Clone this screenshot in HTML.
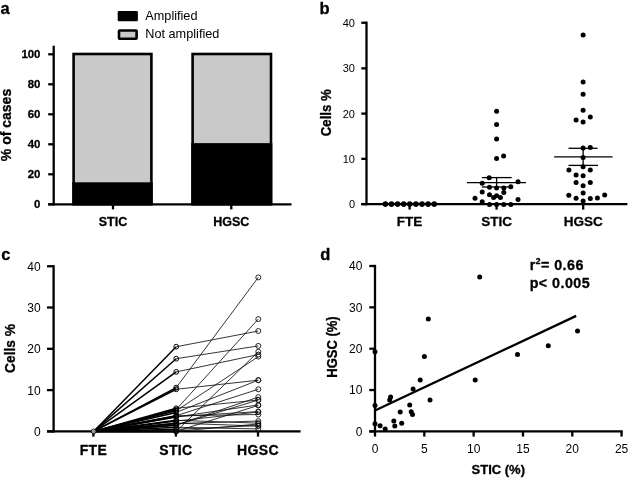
<!DOCTYPE html>
<html lang="en"><head><meta charset="utf-8"><title>Figure</title>
<style>
html,body{margin:0;padding:0;background:#fff;}
body{width:630px;height:479px;overflow:hidden;}
svg{display:block;font-family:"Liberation Sans", Arial, Helvetica, sans-serif;}
.ax{stroke:#000;stroke-width:2.3;fill:none;stroke-linecap:butt;}
.b{font-weight:bold;}
.pl{font-weight:bold;font-size:16.5px;}
text{fill:#000;}
text[font-weight=bold]{stroke:#000;stroke-width:0.3px;stroke-linejoin:round;}
</style></head><body>
<svg width="630" height="479" viewBox="0 0 630 479">
<rect width="630" height="479" fill="#fff"/>
<g id="panel-a">
<text x="0.60" y="13.50" font-size="16.5" text-anchor="start" font-weight="bold" >a</text>
<rect x="117.7" y="10.9" width="20.2" height="10.4" rx="1.2" fill="#000"/>
<rect x="119" y="30.5" width="17.6" height="8.2" rx="0.6" fill="#c8c8c8" stroke="#000" stroke-width="2.6"/>
<text x="145.30" y="19.90" font-size="12.7" text-anchor="start" >Amplified</text>
<text x="145.30" y="38.40" font-size="12.7" text-anchor="start" >Not amplified</text>
<rect x="73.60" y="54.00" width="77.80" height="128.25" fill="#c9c9c9"/>
<rect x="72.30" y="182.25" width="80.40" height="22.05" fill="#000"/>
<rect x="73.60" y="54.00" width="77.80" height="150.30" fill="none" stroke="#000" stroke-width="2.6"/>
<rect x="192.60" y="54.00" width="78.40" height="89.10" fill="#c9c9c9"/>
<rect x="191.30" y="143.10" width="81.00" height="61.20" fill="#000"/>
<rect x="192.60" y="54.00" width="78.40" height="150.30" fill="none" stroke="#000" stroke-width="2.6"/>
<line class="ax" x1="53.70" y1="45.70" x2="53.70" y2="205.45" />
<line class="ax" x1="48.20" y1="204.30" x2="291.50" y2="204.30" />
<line class="ax" x1="48.20" y1="204.30" x2="53.70" y2="204.30" />
<text x="40.40" y="207.80" font-size="11.4" text-anchor="end" font-weight="bold" >0</text>
<line class="ax" x1="48.20" y1="174.30" x2="53.70" y2="174.30" />
<text x="40.40" y="177.80" font-size="11.4" text-anchor="end" font-weight="bold" >20</text>
<line class="ax" x1="48.20" y1="144.30" x2="53.70" y2="144.30" />
<text x="40.40" y="147.80" font-size="11.4" text-anchor="end" font-weight="bold" >40</text>
<line class="ax" x1="48.20" y1="114.30" x2="53.70" y2="114.30" />
<text x="40.40" y="117.80" font-size="11.4" text-anchor="end" font-weight="bold" >60</text>
<line class="ax" x1="48.20" y1="84.30" x2="53.70" y2="84.30" />
<text x="40.40" y="87.80" font-size="11.4" text-anchor="end" font-weight="bold" >80</text>
<line class="ax" x1="48.20" y1="54.30" x2="53.70" y2="54.30" />
<text x="40.40" y="57.80" font-size="11.4" text-anchor="end" font-weight="bold" >100</text>
<line class="ax" x1="113.00" y1="204.30" x2="113.00" y2="209.40" />
<text x="113.00" y="225.50" font-size="12.5" text-anchor="middle" font-weight="bold" >STIC</text>
<line class="ax" x1="231.30" y1="204.30" x2="231.30" y2="209.40" />
<text x="231.30" y="225.50" font-size="12.5" text-anchor="middle" font-weight="bold" >HGSC</text>
<text transform="translate(11.20 125.00) rotate(-90) scale(1 1.08)" font-size="14" text-anchor="middle" font-weight="bold" >% of cases</text>
</g>
<g id="panel-b">
<text x="319.50" y="13.50" font-size="16.5" text-anchor="start" font-weight="bold" >b</text>
<line class="ax" x1="366.50" y1="21.60" x2="366.50" y2="205.25" />
<line class="ax" x1="361.30" y1="204.10" x2="627.40" y2="204.10" />
<line class="ax" x1="361.30" y1="204.10" x2="366.50" y2="204.10" />
<text x="355.00" y="208.20" font-size="11" text-anchor="end" >0</text>
<line class="ax" x1="361.30" y1="158.85" x2="366.50" y2="158.85" />
<text x="355.00" y="162.95" font-size="11" text-anchor="end" >10</text>
<line class="ax" x1="361.30" y1="113.60" x2="366.50" y2="113.60" />
<text x="355.00" y="117.70" font-size="11" text-anchor="end" >20</text>
<line class="ax" x1="361.30" y1="68.35" x2="366.50" y2="68.35" />
<text x="355.00" y="72.45" font-size="11" text-anchor="end" >30</text>
<line class="ax" x1="361.30" y1="22.75" x2="366.50" y2="22.75" />
<text x="355.00" y="27.20" font-size="11" text-anchor="end" >40</text>
<line class="ax" x1="409.60" y1="204.10" x2="409.60" y2="209.60" />
<text x="409.60" y="226.30" font-size="13.5" text-anchor="middle" font-weight="bold" >FTE</text>
<line class="ax" x1="496.60" y1="204.10" x2="496.60" y2="209.60" />
<text x="496.60" y="226.30" font-size="13.5" text-anchor="middle" font-weight="bold" >STIC</text>
<line class="ax" x1="583.20" y1="204.10" x2="583.20" y2="209.60" />
<text x="583.20" y="226.30" font-size="13.5" text-anchor="middle" font-weight="bold" >HGSC</text>
<text transform="translate(331.00 112.70) rotate(-90) scale(1 1.08)" font-size="13.2" text-anchor="middle" font-weight="bold" >Cells %</text>
<g fill="#000">
<circle cx="385.4" cy="204.1" r="2.80"/>
<circle cx="391.5" cy="204.1" r="2.80"/>
<circle cx="397.6" cy="204.1" r="2.80"/>
<circle cx="403.7" cy="204.1" r="2.80"/>
<circle cx="409.8" cy="204.1" r="2.80"/>
<circle cx="415.9" cy="204.1" r="2.80"/>
<circle cx="422.0" cy="204.1" r="2.80"/>
<circle cx="428.1" cy="204.1" r="2.80"/>
<circle cx="434.2" cy="204.1" r="2.80"/>
<circle cx="496.6" cy="111.3" r="2.50"/>
<circle cx="496.6" cy="124.5" r="2.50"/>
<circle cx="496.6" cy="138.9" r="2.50"/>
<circle cx="496.6" cy="158.5" r="2.50"/>
<circle cx="503.6" cy="156.0" r="2.50"/>
<circle cx="489.2" cy="177.7" r="2.50"/>
<circle cx="482.2" cy="183.3" r="2.50"/>
<circle cx="518.0" cy="181.7" r="2.50"/>
<circle cx="489.5" cy="187.2" r="2.50"/>
<circle cx="496.6" cy="188.0" r="2.50"/>
<circle cx="503.8" cy="188.0" r="2.50"/>
<circle cx="510.8" cy="186.8" r="2.50"/>
<circle cx="482.2" cy="192.0" r="2.50"/>
<circle cx="503.8" cy="192.5" r="2.50"/>
<circle cx="489.5" cy="194.8" r="2.50"/>
<circle cx="493.6" cy="197.6" r="2.50"/>
<circle cx="496.6" cy="195.7" r="2.50"/>
<circle cx="500.4" cy="197.6" r="2.50"/>
<circle cx="475.0" cy="198.3" r="2.50"/>
<circle cx="518.0" cy="199.5" r="2.50"/>
<circle cx="482.2" cy="201.7" r="2.50"/>
<circle cx="489.5" cy="204.6" r="2.50"/>
<circle cx="496.6" cy="204.6" r="2.50"/>
<circle cx="503.8" cy="204.6" r="2.50"/>
<circle cx="510.8" cy="204.6" r="2.50"/>
<circle cx="583.1" cy="35.0" r="2.50"/>
<circle cx="583.1" cy="81.9" r="2.50"/>
<circle cx="583.1" cy="94.2" r="2.50"/>
<circle cx="583.1" cy="110.2" r="2.50"/>
<circle cx="590.3" cy="117.1" r="2.50"/>
<circle cx="576.1" cy="120.0" r="2.50"/>
<circle cx="583.1" cy="121.9" r="2.50"/>
<circle cx="583.1" cy="147.9" r="2.50"/>
<circle cx="590.3" cy="147.4" r="2.50"/>
<circle cx="583.1" cy="157.4" r="2.50"/>
<circle cx="583.1" cy="166.7" r="2.50"/>
<circle cx="568.9" cy="170.1" r="2.50"/>
<circle cx="590.3" cy="170.1" r="2.50"/>
<circle cx="576.1" cy="174.9" r="2.50"/>
<circle cx="583.1" cy="175.8" r="2.50"/>
<circle cx="576.1" cy="182.5" r="2.50"/>
<circle cx="590.3" cy="182.5" r="2.50"/>
<circle cx="583.1" cy="185.7" r="2.50"/>
<circle cx="583.1" cy="192.9" r="2.50"/>
<circle cx="568.8" cy="195.3" r="2.50"/>
<circle cx="604.7" cy="195.0" r="2.50"/>
<circle cx="576.1" cy="198.3" r="2.50"/>
<circle cx="590.3" cy="198.5" r="2.50"/>
<circle cx="597.4" cy="198.0" r="2.50"/>
<circle cx="583.1" cy="201.0" r="2.50"/>
</g>
<g stroke="#000" stroke-width="1.3" fill="none">
<line class="" x1="467.00" y1="182.60" x2="526.00" y2="182.60" />
<line class="" x1="481.80" y1="177.60" x2="511.70" y2="177.60" />
<line class="" x1="481.80" y1="187.00" x2="511.70" y2="187.00" />
<line class="" x1="496.60" y1="177.60" x2="496.60" y2="187.00" />
<line class="" x1="554.10" y1="156.80" x2="612.60" y2="156.80" />
<line class="" x1="568.50" y1="148.30" x2="597.50" y2="148.30" />
<line class="" x1="568.50" y1="165.40" x2="598.00" y2="165.40" />
<line class="" x1="583.10" y1="148.30" x2="583.10" y2="165.40" />
</g>
</g>
<g id="panel-c">
<text x="1.30" y="260.00" font-size="16.5" text-anchor="start" font-weight="bold" >c</text>
<line class="ax" x1="53.60" y1="265.10" x2="53.60" y2="432.55" />
<line class="ax" x1="47.00" y1="431.40" x2="300.60" y2="431.40" />
<line class="ax" x1="47.00" y1="431.40" x2="53.60" y2="431.40" />
<text x="40.60" y="435.80" font-size="12" text-anchor="end" >0</text>
<line class="ax" x1="47.00" y1="390.10" x2="53.60" y2="390.10" />
<text x="40.60" y="394.50" font-size="12" text-anchor="end" >10</text>
<line class="ax" x1="47.00" y1="348.80" x2="53.60" y2="348.80" />
<text x="40.60" y="353.20" font-size="12" text-anchor="end" >20</text>
<line class="ax" x1="47.00" y1="307.50" x2="53.60" y2="307.50" />
<text x="40.60" y="311.90" font-size="12" text-anchor="end" >30</text>
<line class="ax" x1="47.00" y1="266.25" x2="53.60" y2="266.25" />
<text x="40.60" y="270.60" font-size="12" text-anchor="end" >40</text>
<line class="ax" x1="93.40" y1="431.40" x2="93.40" y2="436.60" />
<text x="93.40" y="454.70" font-size="14" text-anchor="middle" font-weight="bold" letter-spacing="0.35">FTE</text>
<line class="ax" x1="175.90" y1="431.40" x2="175.90" y2="436.60" />
<text x="175.90" y="454.70" font-size="14" text-anchor="middle" font-weight="bold" letter-spacing="0.35">STIC</text>
<line class="ax" x1="258.00" y1="431.40" x2="258.00" y2="436.60" />
<text x="258.00" y="454.70" font-size="14" text-anchor="middle" font-weight="bold" letter-spacing="0.35">HGSC</text>
<text transform="translate(14.70 348.40) rotate(-90) scale(1 1.08)" font-size="13.8" text-anchor="middle" font-weight="bold" >Cells %</text>
<g stroke="#000" stroke-width="1.5" fill="none">
<line class="" x1="93.60" y1="431.40" x2="176.20" y2="431.40" />
<line class="" x1="93.60" y1="431.40" x2="176.20" y2="431.40" />
<line class="" x1="93.60" y1="431.40" x2="176.20" y2="429.33" />
<line class="" x1="93.60" y1="431.40" x2="176.20" y2="427.27" />
<line class="" x1="93.60" y1="431.40" x2="176.20" y2="425.00" />
<line class="" x1="93.60" y1="431.40" x2="176.20" y2="425.20" />
<line class="" x1="93.60" y1="431.40" x2="176.20" y2="423.55" />
<line class="" x1="93.60" y1="431.40" x2="176.20" y2="423.14" />
<line class="" x1="93.60" y1="431.40" x2="176.20" y2="421.07" />
<line class="" x1="93.60" y1="431.40" x2="176.20" y2="420.25" />
<line class="" x1="93.60" y1="431.40" x2="176.20" y2="416.94" />
<line class="" x1="93.60" y1="431.40" x2="176.20" y2="416.53" />
<line class="" x1="93.60" y1="431.40" x2="176.20" y2="415.91" />
<line class="" x1="93.60" y1="431.40" x2="176.20" y2="415.71" />
<line class="" x1="93.60" y1="431.40" x2="176.20" y2="412.40" />
<line class="" x1="93.60" y1="431.40" x2="176.20" y2="408.27" />
<line class="" x1="93.60" y1="431.40" x2="176.20" y2="431.40" />
<line class="" x1="93.60" y1="431.40" x2="176.20" y2="410.75" />
<line class="" x1="93.60" y1="431.40" x2="176.20" y2="409.51" />
<line class="" x1="93.60" y1="431.40" x2="176.20" y2="389.27" />
<line class="" x1="93.60" y1="431.40" x2="176.20" y2="387.62" />
<line class="" x1="93.60" y1="431.40" x2="176.20" y2="371.93" />
<line class="" x1="93.60" y1="431.40" x2="176.20" y2="358.71" />
<line class="" x1="93.60" y1="431.40" x2="176.20" y2="346.74" />
</g>
<g stroke="#111" stroke-width="0.85" fill="none">
<line class="" x1="176.20" y1="431.40" x2="258.30" y2="405.38" />
<line class="" x1="176.20" y1="431.40" x2="258.30" y2="423.97" />
<line class="" x1="176.20" y1="429.33" x2="258.30" y2="425.62" />
<line class="" x1="176.20" y1="427.27" x2="258.30" y2="428.92" />
<line class="" x1="176.20" y1="425.00" x2="258.30" y2="397.12" />
<line class="" x1="176.20" y1="425.20" x2="258.30" y2="400.01" />
<line class="" x1="176.20" y1="423.55" x2="258.30" y2="421.07" />
<line class="" x1="176.20" y1="423.14" x2="258.30" y2="426.03" />
<line class="" x1="176.20" y1="421.07" x2="258.30" y2="411.99" />
<line class="" x1="176.20" y1="420.25" x2="258.30" y2="423.14" />
<line class="" x1="176.20" y1="416.94" x2="258.30" y2="404.97" />
<line class="" x1="176.20" y1="416.53" x2="258.30" y2="411.58" />
<line class="" x1="176.20" y1="415.91" x2="258.30" y2="414.47" />
<line class="" x1="176.20" y1="415.71" x2="258.30" y2="389.27" />
<line class="" x1="176.20" y1="412.40" x2="258.30" y2="380.19" />
<line class="" x1="176.20" y1="408.27" x2="258.30" y2="400.01" />
<line class="" x1="176.20" y1="431.40" x2="258.30" y2="351.69" />
<line class="" x1="176.20" y1="410.75" x2="258.30" y2="356.65" />
<line class="" x1="176.20" y1="409.51" x2="258.30" y2="319.06" />
<line class="" x1="176.20" y1="389.27" x2="258.30" y2="380.19" />
<line class="" x1="176.20" y1="387.62" x2="258.30" y2="277.35" />
<line class="" x1="176.20" y1="371.93" x2="258.30" y2="354.58" />
<line class="" x1="176.20" y1="358.71" x2="258.30" y2="345.91" />
<line class="" x1="176.20" y1="346.74" x2="258.30" y2="331.04" />
</g>
<g stroke="#111" stroke-width="0.9" fill="none">
<circle cx="93.6" cy="431.4" r="2.4" fill="#fff" fill-opacity="0.6"/>
<circle cx="176.2" cy="431.4" r="2.4" stroke="#000" stroke-width="1"/>
<circle cx="258.3" cy="405.4" r="2.5"/>
<circle cx="176.2" cy="431.4" r="2.4" stroke="#000" stroke-width="1"/>
<circle cx="258.3" cy="424.0" r="2.5"/>
<circle cx="176.2" cy="429.3" r="2.4" stroke="#000" stroke-width="1"/>
<circle cx="258.3" cy="425.6" r="2.5"/>
<circle cx="176.2" cy="427.3" r="2.4" stroke="#000" stroke-width="1"/>
<circle cx="258.3" cy="428.9" r="2.5"/>
<circle cx="176.2" cy="425.0" r="2.4" stroke="#000" stroke-width="1"/>
<circle cx="258.3" cy="397.1" r="2.5"/>
<circle cx="176.2" cy="425.2" r="2.4" stroke="#000" stroke-width="1"/>
<circle cx="258.3" cy="400.0" r="2.5"/>
<circle cx="176.2" cy="423.6" r="2.4" stroke="#000" stroke-width="1"/>
<circle cx="258.3" cy="421.1" r="2.5"/>
<circle cx="176.2" cy="423.1" r="2.4" stroke="#000" stroke-width="1"/>
<circle cx="258.3" cy="426.0" r="2.5"/>
<circle cx="176.2" cy="421.1" r="2.4" stroke="#000" stroke-width="1"/>
<circle cx="258.3" cy="412.0" r="2.5"/>
<circle cx="176.2" cy="420.2" r="2.4" stroke="#000" stroke-width="1"/>
<circle cx="258.3" cy="423.1" r="2.5"/>
<circle cx="176.2" cy="416.9" r="2.4" stroke="#000" stroke-width="1"/>
<circle cx="258.3" cy="405.0" r="2.5"/>
<circle cx="176.2" cy="416.5" r="2.4" stroke="#000" stroke-width="1"/>
<circle cx="258.3" cy="411.6" r="2.5"/>
<circle cx="176.2" cy="415.9" r="2.4" stroke="#000" stroke-width="1"/>
<circle cx="258.3" cy="414.5" r="2.5"/>
<circle cx="176.2" cy="415.7" r="2.4" stroke="#000" stroke-width="1"/>
<circle cx="258.3" cy="389.3" r="2.5"/>
<circle cx="176.2" cy="412.4" r="2.4" stroke="#000" stroke-width="1"/>
<circle cx="258.3" cy="380.2" r="2.5"/>
<circle cx="176.2" cy="408.3" r="2.4" stroke="#000" stroke-width="1"/>
<circle cx="258.3" cy="400.0" r="2.5"/>
<circle cx="176.2" cy="431.4" r="2.4" stroke="#000" stroke-width="1"/>
<circle cx="258.3" cy="351.7" r="2.5"/>
<circle cx="176.2" cy="410.8" r="2.4" stroke="#000" stroke-width="1"/>
<circle cx="258.3" cy="356.6" r="2.5"/>
<circle cx="176.2" cy="409.5" r="2.4" stroke="#000" stroke-width="1"/>
<circle cx="258.3" cy="319.1" r="2.5"/>
<circle cx="176.2" cy="389.3" r="2.4" stroke="#000" stroke-width="1"/>
<circle cx="258.3" cy="380.2" r="2.5"/>
<circle cx="176.2" cy="387.6" r="2.4" stroke="#000" stroke-width="1"/>
<circle cx="258.3" cy="277.4" r="2.5"/>
<circle cx="176.2" cy="371.9" r="2.4" stroke="#000" stroke-width="1"/>
<circle cx="258.3" cy="354.6" r="2.5"/>
<circle cx="176.2" cy="358.7" r="2.4" stroke="#000" stroke-width="1"/>
<circle cx="258.3" cy="345.9" r="2.5"/>
<circle cx="176.2" cy="346.7" r="2.4" stroke="#000" stroke-width="1"/>
<circle cx="258.3" cy="331.0" r="2.5"/>
</g>
</g>
<g id="panel-d">
<text x="320.30" y="260.00" font-size="16.5" text-anchor="start" font-weight="bold" >d</text>
<line class="ax" x1="375.00" y1="264.85" x2="375.00" y2="432.55" />
<line class="ax" x1="369.30" y1="431.40" x2="622.70" y2="431.40" />
<line class="ax" x1="369.30" y1="431.40" x2="375.00" y2="431.40" />
<text x="362.40" y="435.80" font-size="12" text-anchor="end" >0</text>
<line class="ax" x1="369.30" y1="390.05" x2="375.00" y2="390.05" />
<text x="362.40" y="394.45" font-size="12" text-anchor="end" >10</text>
<line class="ax" x1="369.30" y1="348.70" x2="375.00" y2="348.70" />
<text x="362.40" y="353.10" font-size="12" text-anchor="end" >20</text>
<line class="ax" x1="369.30" y1="307.35" x2="375.00" y2="307.35" />
<text x="362.40" y="311.75" font-size="12" text-anchor="end" >30</text>
<line class="ax" x1="369.30" y1="266.00" x2="375.00" y2="266.00" />
<text x="362.40" y="270.40" font-size="12" text-anchor="end" >40</text>
<line class="ax" x1="375.00" y1="431.40" x2="375.00" y2="436.60" />
<text x="375.00" y="453.30" font-size="12" text-anchor="middle" >0</text>
<line class="ax" x1="424.32" y1="431.40" x2="424.32" y2="436.60" />
<text x="424.32" y="453.30" font-size="12" text-anchor="middle" >5</text>
<line class="ax" x1="473.65" y1="431.40" x2="473.65" y2="436.60" />
<text x="473.65" y="453.30" font-size="12" text-anchor="middle" >10</text>
<line class="ax" x1="522.98" y1="431.40" x2="522.98" y2="436.60" />
<text x="522.98" y="453.30" font-size="12" text-anchor="middle" >15</text>
<line class="ax" x1="572.30" y1="431.40" x2="572.30" y2="436.60" />
<text x="572.30" y="453.30" font-size="12" text-anchor="middle" >20</text>
<line class="ax" x1="621.55" y1="431.40" x2="621.55" y2="436.60" />
<text x="621.62" y="453.30" font-size="12" text-anchor="middle" >25</text>
<text x="498.30" y="474.00" font-size="13" text-anchor="middle" font-weight="bold" >STIC (%)</text>
<text transform="translate(337.00 347.00) rotate(-90) scale(1 1.08)" font-size="13" text-anchor="middle" font-weight="bold" >HGSC (%)</text>
<g fill="#000">
<circle cx="375.0" cy="405.4" r="2.50"/>
<circle cx="375.0" cy="423.8" r="2.50"/>
<circle cx="380.1" cy="425.7" r="2.50"/>
<circle cx="385.2" cy="428.9" r="2.50"/>
<circle cx="390.6" cy="397.1" r="2.50"/>
<circle cx="389.7" cy="400.1" r="2.50"/>
<circle cx="393.8" cy="420.9" r="2.50"/>
<circle cx="394.8" cy="426.0" r="2.50"/>
<circle cx="400.2" cy="412.0" r="2.50"/>
<circle cx="401.7" cy="423.2" r="2.50"/>
<circle cx="409.7" cy="405.1" r="2.50"/>
<circle cx="411.2" cy="411.7" r="2.50"/>
<circle cx="412.5" cy="414.5" r="2.50"/>
<circle cx="413.1" cy="389.1" r="2.50"/>
<circle cx="420.2" cy="380.0" r="2.50"/>
<circle cx="430.0" cy="400.0" r="2.50"/>
<circle cx="375.0" cy="351.7" r="2.50"/>
<circle cx="424.4" cy="356.4" r="2.50"/>
<circle cx="428.3" cy="319.0" r="2.50"/>
<circle cx="475.2" cy="380.0" r="2.50"/>
<circle cx="479.7" cy="277.1" r="2.50"/>
<circle cx="517.5" cy="354.6" r="2.50"/>
<circle cx="548.3" cy="345.7" r="2.50"/>
<circle cx="577.5" cy="330.9" r="2.50"/>
</g>
<line class="" x1="375.00" y1="410.50" x2="576.20" y2="315.90" stroke="#000" stroke-width="2.4" stroke-linecap="butt"/>
<text x="529.7" y="269.5" font-size="14.3" font-weight="bold" letter-spacing="0.45">r<tspan font-size="8.6" dy="-5.4">2</tspan><tspan dy="5.4">= 0.66</tspan></text>
<text x="529.70" y="287.60" font-size="14.3" text-anchor="start" font-weight="bold" letter-spacing="0.45">p&lt; 0.005</text>
</g>
</svg>
</body></html>
